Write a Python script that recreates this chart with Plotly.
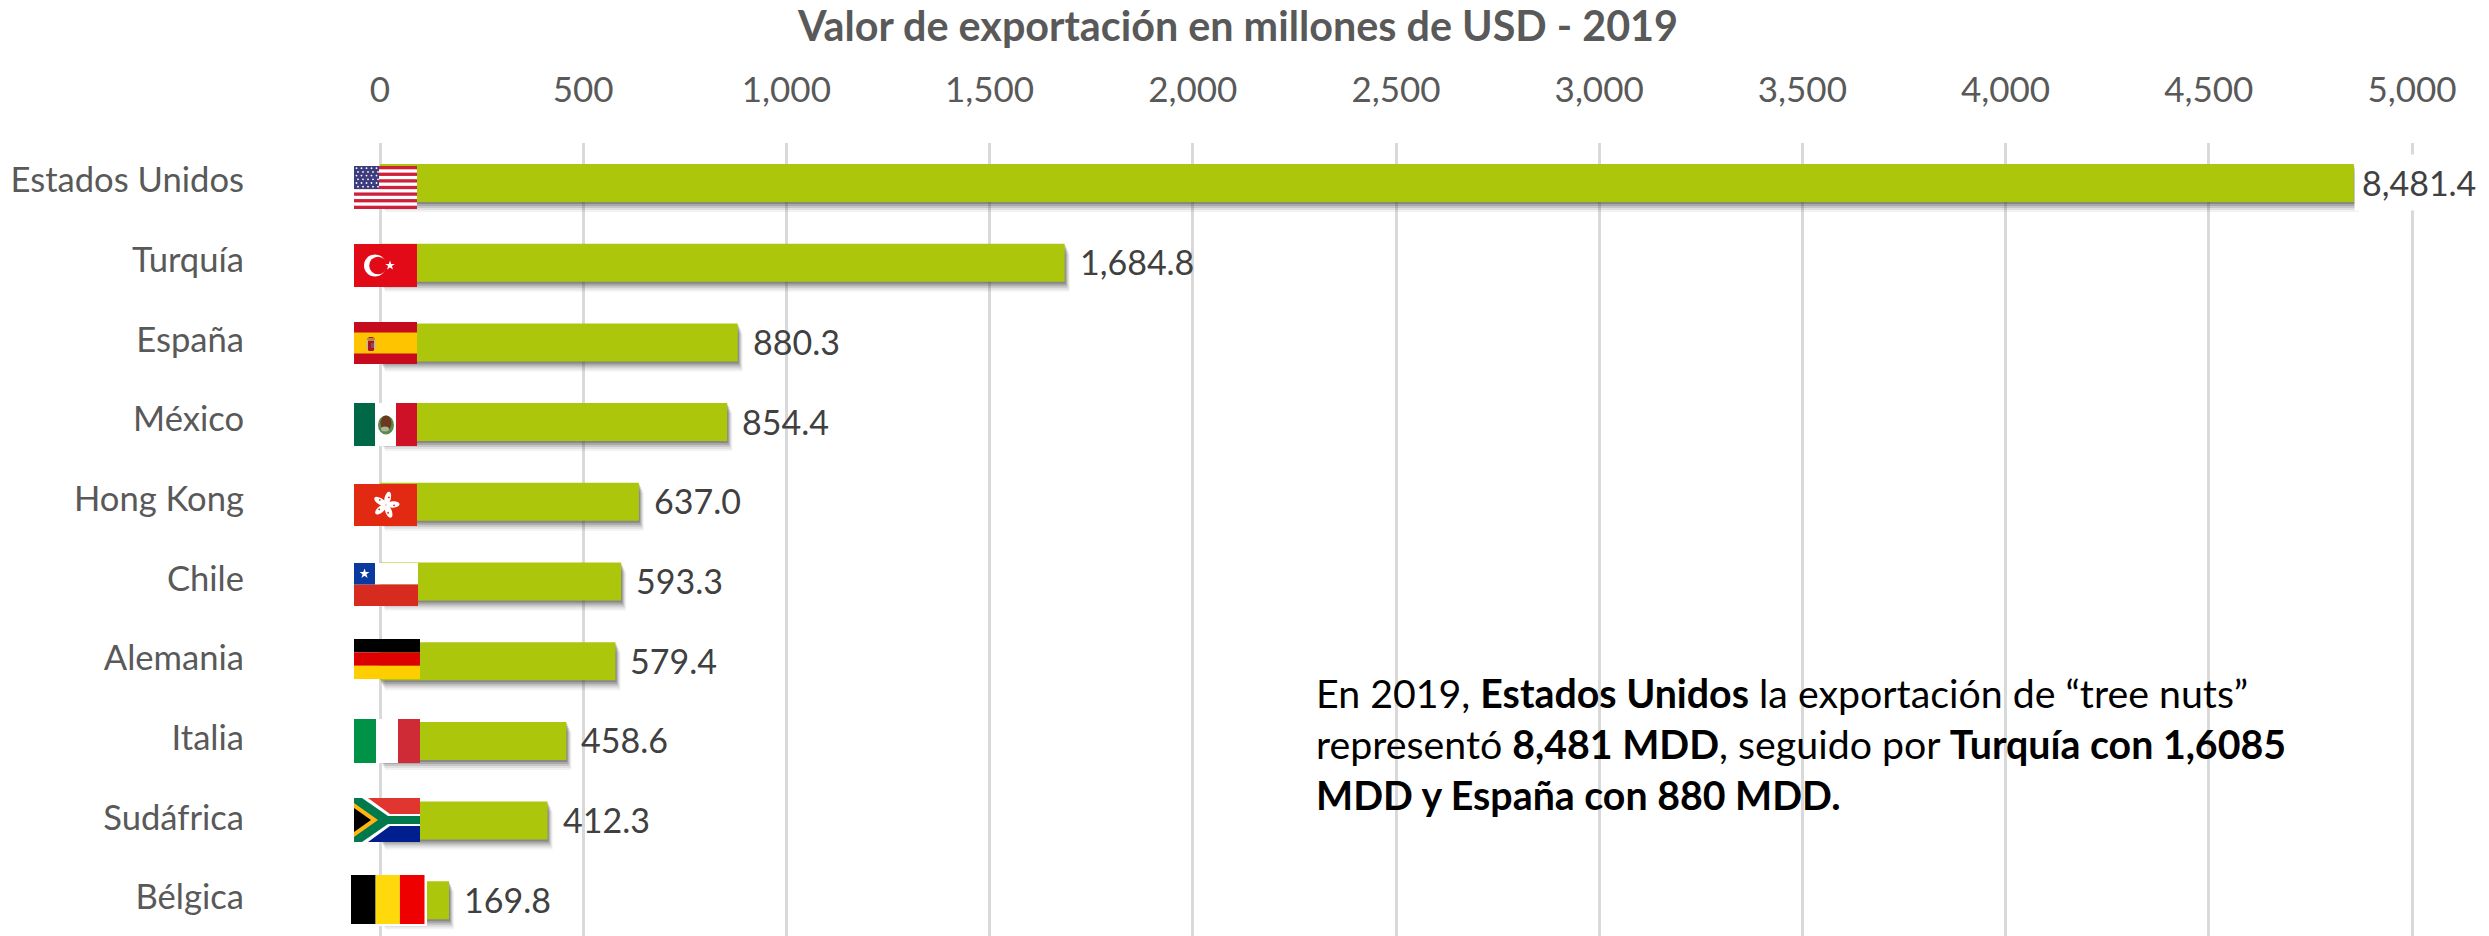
import base64
import math
import plotly.graph_objects as go

# ---- data ----
paises = ["Estados Unidos", "Turquía", "España", "México", "Hong Kong",
          "Chile", "Alemania", "Italia", "Sudáfrica", "Bélgica"]
valores = [8481.4, 1684.8, 880.3, 854.4, 637.0, 593.3, 579.4, 458.6, 412.3, 169.8]
# The reference draws the first bar cut short of its real value; this is its drawn length
longitud_barra = [4857, 1684.8, 880.3, 854.4, 637.0, 593.3, 579.4, 458.6, 412.3, 169.8]
ticks_x = [0, 500, 1000, 1500, 2000, 2500, 3000, 3500, 4000, 4500, 5000]
titulo = "Valor de exportación en millones de USD - 2019"
nota = ("En 2019, <b>Estados Unidos</b> la exportación de “tree nuts”<br>"
        "representó <b>8,481 MDD</b>, seguido por <b>Turquía con 1,6085</b><br>"
        "<b>MDD y España con 880 MDD.</b>")

# ---- page geometry ----
W, H = 2489, 936
L, T, R, B = 245, 143, 2489, 936
PX_POR_UNIDAD = 0.4064
X0 = 380
x_rango = [(L - X0) / PX_POR_UNIDAD, (R - X0) / PX_POR_UNIDAD]
PASO = 79.7
y_rango = [(B - 183) / PASO, (T - 183) / PASO]
ANCHO = 38 / PASO
FUENTE = "Lato, 'Open Sans', sans-serif"


def px(v):
    return (v - L) / (R - L)


def py(v):
    return (B - v) / (B - T)


def svg(w, h, cuerpo):
    s = (f'<svg xmlns="http://www.w3.org/2000/svg" width="{w}" height="{h}" '
         f'viewBox="0 0 {w} {h}" preserveAspectRatio="none">{cuerpo}</svg>')
    return "data:image/svg+xml;base64," + base64.b64encode(s.encode()).decode()


def estrella(cx, cy, r, color="#fff"):
    pts = []
    for i in range(10):
        a = -math.pi / 2 + i * math.pi / 5
        q = r if i % 2 == 0 else r * 0.4
        pts.append(f"{cx + q * math.cos(a):.2f},{cy + q * math.sin(a):.2f}")
    return f'<polygon points="{" ".join(pts)}" fill="{color}"/>'


def f_usa():
    c = '<rect width="63" height="43" fill="#fff"/>'
    for i in range(7):
        c += f'<rect y="{i * 43 / 6.5:.2f}" width="63" height="3.3" fill="#CE1F3B"/>'
    c += '<rect width="25" height="23" fill="#3C3B7E"/>'
    for r in range(6):
        for k in range(5):
            c += f'<circle cx="{2.5 + k * 5 + (r % 2) * 1.5:.1f}" cy="{2.2 + r * 3.7:.1f}" r="0.9" fill="#fff"/>'
    return svg(63, 43, c)


def f_turquia():
    c = '<rect width="63" height="43" fill="#E30A17"/>'
    c += '<circle cx="21" cy="21.5" r="11" fill="#fff"/><circle cx="24" cy="21.5" r="8.8" fill="#E30A17"/>'
    c += estrella(36, 21.5, 5)
    return svg(63, 43, c)


def f_espana():
    c = '<rect width="63" height="42" fill="#C60B1E"/><rect y="10.5" width="63" height="21" fill="#FFC400"/>'
    c += '<rect x="14" y="15" width="6" height="14" fill="#AD1519" rx="1.5"/><rect x="13" y="16" width="8" height="3" fill="#B88A3A"/>'
    c += '<rect x="17" y="21" width="3" height="5" fill="#8A4B6B"/><rect x="12.6" y="18" width="1.4" height="10" fill="#C8B5A0"/><rect x="20" y="18" width="1.4" height="10" fill="#C8B5A0"/>'
    return svg(63, 42, c)


def f_mexico():
    c = '<rect width="21" height="43" fill="#006847"/><rect x="21" width="21" height="43" fill="#fff"/><rect x="42" width="21" height="43" fill="#CE1126"/>'
    c += '<ellipse cx="32" cy="22" rx="8" ry="9.5" fill="#5C8A4E"/><ellipse cx="32" cy="20" rx="5.5" ry="7.5" fill="#6B3A1E"/><ellipse cx="31" cy="26" rx="4" ry="2.5" fill="#A9B59A"/>'
    return svg(63, 43, c)


def f_hk():
    c = '<rect width="63" height="42" fill="#E12A11"/>'
    for i in range(5):
        a = i * 72
        c += (f'<ellipse cx="32" cy="14" rx="3.2" ry="6.6" fill="#fff" '
              f'transform="rotate({a + 14} 32 21)"/>')
        c += f'<circle cx="33" cy="13" r="0.9" fill="#E12A11" transform="rotate({a + 14} 32 21)"/>'
    return svg(63, 42, c)


def f_chile():
    c = '<rect width="64" height="21.5" fill="#fff"/><rect y="21.5" width="64" height="21.5" fill="#D72B20"/>'
    c += '<rect width="21" height="21.5" fill="#0A3A9E"/>' + estrella(10.5, 10.7, 5.2)
    return svg(64, 43, c)


def f_alemania():
    c = ('<rect width="66" height="13.4" fill="#000"/><rect y="13.4" width="66" height="13.4" fill="#DD0000"/>'
         '<rect y="26.8" width="66" height="13.2" fill="#FFCE00"/>')
    return svg(66, 40, c)


def f_italia():
    c = ('<rect width="22" height="44" fill="#009246"/><rect x="22" width="22" height="44" fill="#fff"/>'
         '<rect x="44" width="22" height="44" fill="#CE2B37"/>')
    return svg(66, 44, c)


def f_sudafrica():
    c = '<rect width="66" height="22" fill="#E0362F"/><rect y="22" width="66" height="22" fill="#001F8F"/>'
    c += '<polygon points="0,0 14,0 36,16 66,16 66,28 36,28 14,44 0,44" fill="#fff"/>'
    c += '<polygon points="0,0 8,0 34,18 66,18 66,26 34,26 8,44 0,44" fill="#007A4D"/>'
    c += '<polygon points="0,5 24,22 0,39" fill="#FFB612"/><polygon points="0,10 17,22 0,34" fill="#000"/>'
    return svg(66, 44, c)


def f_belgica():
    c = '<rect width="76" height="51" fill="#fff"/>'
    c += ('<rect width="24.6" height="49" fill="#000"/><rect x="24.6" width="24.3" height="49" fill="#FFD90C"/>'
          '<rect x="48.9" width="24.6" height="49" fill="#EF0000"/>')
    return svg(76, 51, c)


banderas = [
    (f_usa(), 354, 166, 63, 43), (f_turquia(), 354, 244, 63, 43), (f_espana(), 354, 322, 63, 42),
    (f_mexico(), 354, 403, 63, 43), (f_hk(), 354, 484, 63, 42), (f_chile(), 354, 563, 64, 43),
    (f_alemania(), 354, 639, 66, 40), (f_italia(), 354, 719, 66, 44), (f_sudafrica(), 354, 798, 66, 44),
    (f_belgica(), 351, 875, 76, 51),
]

fig = go.Figure()

# soft drop shadow under the bars
for dy, dx, op in [(10, 5, 0.07), (8, 4, 0.10), (6, 3, 0.16), (4, 2, 0.22), (2, 1, 0.30)]:
    fig.add_trace(go.Bar(
        y=paises, x=longitud_barra, orientation="h", base=dx / PX_POR_UNIDAD,
        width=ANCHO, offset=-ANCHO / 2 + dy / PASO,
        marker=dict(color="#404040", opacity=op, line_width=0),
        hoverinfo="skip", showlegend=False))

fig.add_trace(go.Bar(
    y=paises, x=longitud_barra, orientation="h", width=ANCHO, offset=-ANCHO / 2,
    marker=dict(color="#ACC60C", line_width=0), showlegend=False,
    customdata=valores, hovertemplate="%{y}: %{customdata:,.1f}<extra></extra>"))

anotaciones = []
for i, (p, v, lg) in enumerate(zip(paises, valores, longitud_barra)):
    primero = i == 0
    anotaciones.append(dict(
        x=lg, y=p, xref="x", yref="y", text=f"{v:,.1f}", showarrow=False,
        xanchor="left", xshift=0 if primero else 14, yshift=1,
        font=dict(family=FUENTE, size=34, color="#404040"),
        bgcolor="#FFFFFF" if primero else None,
        borderpad=7 if primero else 0))

anotaciones.append(dict(
    x=px(1314), y=py(743), xref="paper", yref="paper", text=nota, showarrow=False,
    xanchor="left", yanchor="middle", align="left",
    font=dict(family=FUENTE, size=39.3, color="#000000")))

fig.update_layout(
    width=W, height=H, autosize=False,
    margin=dict(l=L, r=W - R, t=T, b=H - B, pad=0),
    paper_bgcolor="#FFFFFF", plot_bgcolor="#FFFFFF",
    barmode="overlay", showlegend=False,
    title=dict(text=f"<b>{titulo}</b>", x=1238 / W, xanchor="center", y=1 - 27 / H, yanchor="middle",
               font=dict(family=FUENTE, size=41.3, color="#595959")),
    xaxis=dict(side="top", range=x_rango, tickvals=ticks_x, tickformat=",d",
               showgrid=True, gridcolor="#D9D9D9", gridwidth=2.5, zeroline=False,
               showline=False, ticks="outside", ticklen=26, tickcolor="#FFFFFF",
               tickfont=dict(family=FUENTE, size=35, color="#595959")),
    yaxis=dict(range=y_rango, type="category", categoryorder="array", categoryarray=paises,
               showgrid=False, zeroline=False, showline=False, ticks="", ticklabelshift=3,
               tickfont=dict(family=FUENTE, size=34.6, color="#595959")),
    annotations=anotaciones,
    shapes=[dict(type="rect", xref="paper", yref="paper", layer="between",
                 x0=px(1300), x1=px(2300), y0=py(870), y1=py(655),
                 fillcolor="#FFFFFF", line_width=0)],
    images=[dict(source=s, xref="paper", yref="paper", x=px(x), y=py(y),
                 sizex=w / (R - L), sizey=h / (B - T), xanchor="left", yanchor="top",
                 sizing="stretch", layer="above")
            for s, x, y, w, h in banderas],
)

fig.write_html("out.html", config={"displayModeBar": False},
               post_script="document.body.style.margin='0';document.body.style.overflow='hidden';")
